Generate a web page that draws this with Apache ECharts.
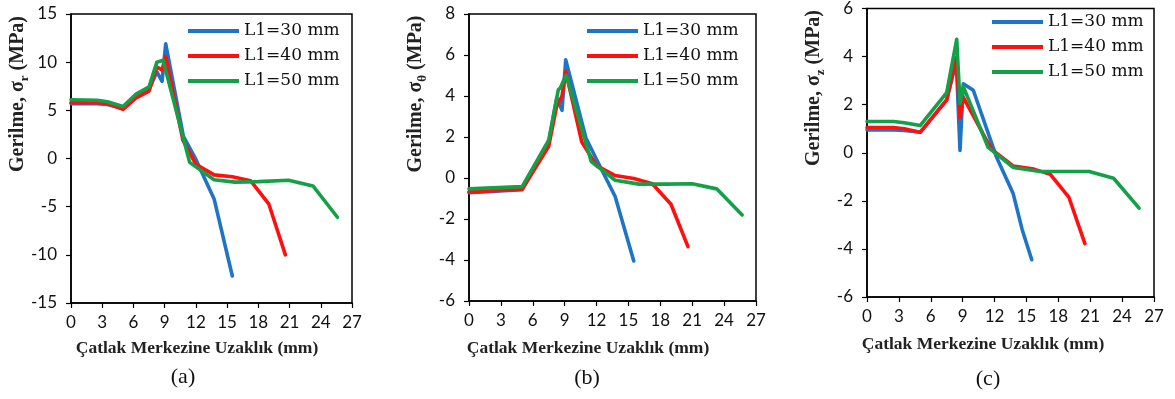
<!DOCTYPE html>
<html>
<head>
<meta charset="utf-8">
<script src="https://cdn.jsdelivr.net/npm/echarts@6/dist/echarts.min.js"></script>
<style>
html,body{margin:0;padding:0;background:#fff;}
#chart{width:1175px;height:399px;}
</style>
</head>
<body>
<div id="chart"></div>
<script>
// ---- Data ----
const seriesNames = ['L1=30 mm', 'L1=40 mm', 'L1=50 mm'];
const xTicks = [0, 3, 6, 9, 12, 15, 18, 21, 24, 27];

// Panel (a): sigma_r
const a30_x = [0, 2.5, 3.5, 5, 6.25, 7.5, 8.25, 8.75, 9.1, 10.8, 12, 13.75, 15.5];
const a30_y = [5.7, 5.7, 5.6, 5.2, 6.4, 7.2, 9.0, 8.0, 11.9, 2.3, -0.1, -4.2, -12.2];
const a40_x = [0, 2.5, 3.5, 5, 6.25, 7.5, 8.25, 8.75, 9.1, 10.75, 12, 13.75, 15.5, 17.25, 19, 20.6];
const a40_y = [5.8, 5.8, 5.7, 5.1, 6.3, 7.0, 9.5, 9.2, 10.6, 1.9, -0.6, -1.7, -1.9, -2.3, -4.7, -10.0];
const a50_x = [0, 2.5, 3.5, 5, 6.25, 7.5, 8.25, 8.85, 11.4, 13.75, 15.75, 18, 20.9, 23.25, 25.6];
const a50_y = [6.1, 6.05, 5.9, 5.4, 6.7, 7.45, 10.0, 10.2, -0.4, -2.2, -2.45, -2.4, -2.25, -2.85, -6.1];

// Panel (b): sigma_theta
const b30_x = [0, 5, 7.5, 8.25, 8.75, 9.1, 11.0, 12, 13.75, 15.5];
const b30_y = [-0.72, -0.57, 1.7, 3.9, 3.3, 5.76, 1.95, 0.9, -0.9, -4.05];
const b40_x = [0, 5, 7.5, 8.25, 8.75, 9.1, 10.6, 12, 13.75, 15.5, 17.25, 19, 20.6];
const b40_y = [-0.68, -0.55, 1.55, 3.5, 4.0, 5.2, 1.77, 0.6, 0.12, -0.02, -0.28, -1.28, -3.35];
const b50_x = [0, 5, 7.5, 8.4, 8.6, 9.13, 11.5, 13.75, 16, 18.5, 21, 23.3, 25.7];
const b50_y = [-0.53, -0.42, 1.85, 4.3, 4.4, 5.02, 0.8, -0.11, -0.3, -0.3, -0.28, -0.53, -1.8];

// Panel (c): sigma_z
const c30_x = [0, 2.5, 3.5, 5, 7.5, 8.4, 8.75, 9.06, 10, 12.2, 13.75, 14.6, 15.5];
const c30_y = [0.95, 0.95, 0.93, 0.85, 2.2, 3.8, 0.1, 2.87, 2.6, -0.2, -1.7, -3.2, -4.45];
const c40_x = [0, 2.5, 3.5, 5, 7.5, 8.4, 8.75, 9.06, 11.7, 13.75, 15.7, 17.25, 19, 20.5];
const c40_y = [1.05, 1.05, 1.0, 0.85, 2.2, 3.95, 1.45, 2.3, 0.15, -0.55, -0.68, -0.9, -1.86, -3.78];
const c50_x = [0, 2.5, 3.5, 5, 7.5, 8.44, 8.75, 9.06, 11.4, 13.75, 16.3, 18.8, 20.9, 23.2, 25.6];
const c50_y = [1.3, 1.3, 1.25, 1.13, 2.5, 4.72, 2.05, 2.75, 0.22, -0.61, -0.78, -0.78, -0.78, -1.06, -2.3];

const yRanges = [[-15, 15, 5], [-6, 8, 2], [-6, 6, 2]];
const ySubs = ['r', 'θ', 'z'];
const captions = ['(a)', '(b)', '(c)'];

// ---- Layout / style ----
const colors = ['#1f74c6', '#ff1010', '#14a046'];
const grids = [
  {left: 71, top: 14, width: 281, height: 289},
  {left: 469, top: 14, width: 287, height: 287},
  {left: 867, top: 8, width: 287, height: 289}
];
const legendPos = [{left: 188, top: 22}, {left: 587, top: 22}, {left: 992, top: 13}];
const yTitlePos = [[18, 94], [416, 94], [814, 88]];
const xTitlePos = [[197, 348], [588, 348], [983, 344]];
const capPos = [[183, 377], [587, 378], [988, 379]];

const pack = (xs, ys) => xs.map((x, i) => [x, ys[i]]);
const panelData = [
  [pack(a30_x, a30_y), pack(a40_x, a40_y), pack(a50_x, a50_y)],
  [pack(b30_x, b30_y), pack(b40_x, b40_y), pack(b50_x, b50_y)],
  [pack(c30_x, c30_y), pack(c40_x, c40_y), pack(c50_x, c50_y)]
];

const tickFont = {fontFamily: 'Lato', fontSize: 17, color: '#111'};

const option = {
  animation: false,
  backgroundColor: '#fff',
  grid: grids.map(g => Object.assign({show: true, borderColor: '#000', borderWidth: 1.5, backgroundColor: 'transparent'}, g)),
  xAxis: grids.map((g, i) => ({
    type: 'value', gridIndex: i, min: xTicks[0], max: xTicks[xTicks.length - 1], interval: 3,
    axisLine: {show: true, onZero: false, lineStyle: {color: '#000', width: 1.5}},
    axisTick: {show: true, inside: false, length: 5, lineStyle: {color: '#000', width: 1.2}},
    axisLabel: Object.assign({margin: 11}, tickFont),
    splitLine: {show: false}
  })),
  yAxis: grids.map((g, i) => ({
    type: 'value', gridIndex: i, min: yRanges[i][0], max: yRanges[i][1], interval: yRanges[i][2],
    axisLine: {show: true, onZero: false, lineStyle: {color: '#000', width: 1.5}},
    axisTick: {show: true, inside: false, length: 5, lineStyle: {color: '#000', width: 1.2}},
    axisLabel: Object.assign({margin: 14}, tickFont),
    splitLine: {show: false}
  })),
  legend: legendPos.map(p => ({
    left: p.left, top: p.top, orient: 'vertical',
    data: seriesNames, icon: 'rect', itemWidth: 51, itemHeight: 4, itemGap: 7,
    textStyle: {fontFamily: 'DejaVu Serif', fontSize: 17, color: '#111', lineHeight: 18},
    selectedMode: false, padding: 0
  })),
  series: [],
  graphic: []
};

panelData.forEach((sets, p) => {
  sets.forEach((d, k) => {
    option.series.push({
      name: seriesNames[k], type: 'line', xAxisIndex: p, yAxisIndex: p,
      data: d, symbol: 'none', smooth: false, z: 2 + k,
      lineStyle: {color: colors[k], width: 3.6, cap: 'round', join: 'round'},
      itemStyle: {color: colors[k]}
    });
  });
  option.graphic.push({
    type: 'text', x: yTitlePos[p][0], y: yTitlePos[p][1], rotation: Math.PI / 2,
    style: {
      text: '{m|Gerilme, σ}{s|' + ySubs[p] + '}{m| (MPa)}',
      rich: {
        m: {fontFamily: 'Liberation Serif', fontWeight: 'bold', fontSize: 20, lineHeight: 26, verticalAlign: 'middle'},
        s: {fontFamily: 'Liberation Serif', fontWeight: 'bold', fontSize: 13, lineHeight: 26, verticalAlign: 'bottom'}
      },
      fill: '#222', align: 'center', verticalAlign: 'middle'
    }
  });
  option.graphic.push({
    type: 'text', x: xTitlePos[p][0], y: xTitlePos[p][1],
    style: {
      text: 'Çatlak Merkezine Uzaklık (mm)', fill: '#222',
      font: 'bold 17.5px "Liberation Serif"', align: 'center', verticalAlign: 'middle'
    }
  });
  option.graphic.push({
    type: 'text', x: capPos[p][0], y: capPos[p][1],
    style: {
      text: captions[p], fill: '#111',
      font: '22px "Liberation Serif"', align: 'center', verticalAlign: 'middle'
    }
  });
});

const chart = echarts.init(document.getElementById('chart'), null, {renderer: 'canvas'});
chart.setOption(option);
</script>
</body>
</html>
